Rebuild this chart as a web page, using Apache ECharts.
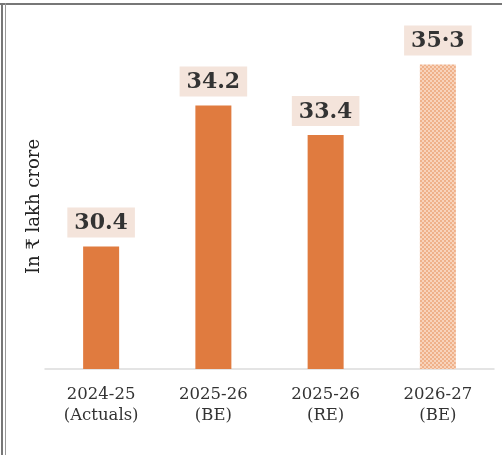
<!DOCTYPE html>
<html>
<head>
<meta charset="utf-8">
<script src="https://cdn.jsdelivr.net/npm/echarts@6/dist/echarts.min.js"></script>
<style>
html,body{margin:0;padding:0;background:#fff;}
#chart{width:502px;height:455px;}
</style>
</head>
<body>
<div id="chart"></div>
<script>
const categories = ['2024-25\n(Actuals)', '2025-26\n(BE)', '2025-26\n(RE)', '2026-27\n(BE)'];
const values = [30.4, 34.2, 33.4, 35.3];
const labelTexts = ['30.4', '34.2', '33.4', '35·3'];
const yAxisName = 'In ₹ lakh crore';

const pc = document.createElement('canvas');
pc.width = 4; pc.height = 4;
const ctx = pc.getContext('2d');
ctx.fillStyle = '#f8d3bb'; ctx.fillRect(0,0,4,4);
ctx.fillStyle = '#efb18a';
ctx.fillRect(0,0,2,2); ctx.fillRect(2,2,2,2);

const chart = echarts.init(document.getElementById('chart'));
const serif = '"DejaVu Serif", "Liberation Serif", serif';
chart.setOption({
  animation: false,
  backgroundColor: '#fff',
  graphic: [
    {type:'rect', shape:{x:0,y:3,width:502,height:2}, style:{fill:'#777'}},
    {type:'rect', shape:{x:1,y:3,width:2,height:452}, style:{fill:'#777'}},
    {type:'rect', shape:{x:5,y:3,width:1,height:452}, style:{fill:'#999'}}
  ],
  grid: {left: 45, right: 8, top: 20, bottom: 86},
  xAxis: {
    type: 'category',
    data: categories,
    axisLine: {lineStyle: {color: '#dcdcdc', width: 1.5}},
    axisTick: {show: false},
    axisLabel: {fontFamily: serif, fontSize: 16.5, color: '#333', lineHeight: 21, margin: 15}
  },
  yAxis: {
    type: 'value',
    min: 27.1, max: 36.5,
    show: true,
    axisLine: {show: false}, axisTick: {show: false}, axisLabel: {show: false},
    splitLine: {show: false},
    name: yAxisName,
    nameLocation: 'middle',
    nameGap: 2,
    nameRotate: 90,
    nameTextStyle: {fontFamily: serif, fontSize: 18, color: '#222', padding: [0, 24, 0, 0]}
  },
  series: [{
    type: 'bar',
    barWidth: 36,
    data: values.map((v, i) => ({
      value: v,
      itemStyle: i === 3 ? {color: {image: pc, repeat: 'repeat'}} : {color: '#e07b3f'}
    })),
    label: {
      show: true,
      position: 'top',
      distance: 9,
      formatter: p => labelTexts[p.dataIndex],
      fontFamily: serif,
      fontWeight: 'bold',
      fontSize: 22,
      color: '#333',
      backgroundColor: '#f4e4db',
      padding: [5, 7, 3, 7]
    }
  }]
});
</script>
</body>
</html>
